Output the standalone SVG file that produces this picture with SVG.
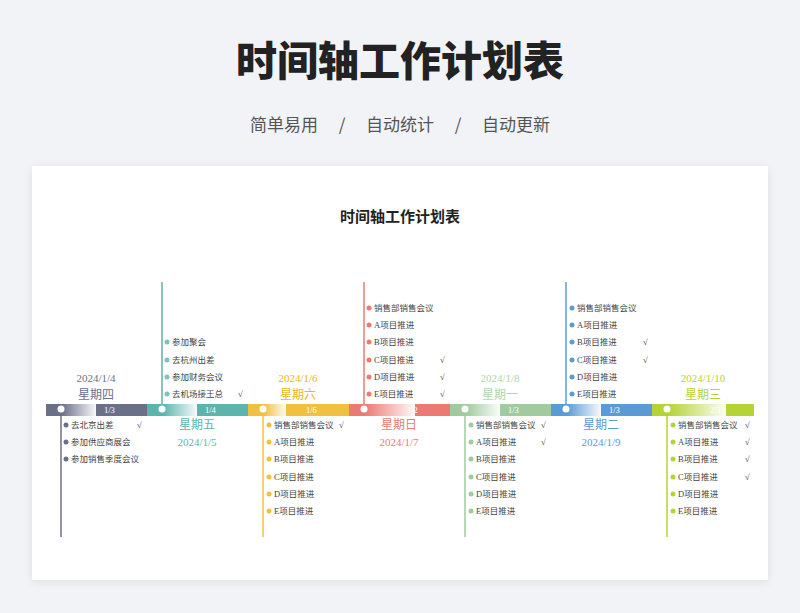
<svg xmlns="http://www.w3.org/2000/svg" width="800" height="613" viewBox="0 0 800 613">
<defs>
<style>
.s{font-family:"Liberation Serif","Noto Sans CJK SC",serif}
.it{font-size:8.5px;fill:#444}
.ck{font-size:8.5px;fill:#444}
.dt{font-size:11px;text-anchor:middle}
.wd{font-size:12px;text-anchor:middle}
.lb{font-size:8.5px;fill:#fff}
.sub{font-family:"Noto Sans CJK SC",sans-serif;font-size:17px;fill:#555;text-anchor:middle}
</style>
<linearGradient id="g" x1="0" x2="1" y1="0" y2="0"><stop offset="0" stop-color="#fff" stop-opacity="0"/><stop offset="1" stop-color="#fff" stop-opacity="0.95"/></linearGradient>
<filter id="sh" x="-5%" y="-5%" width="110%" height="110%"><feDropShadow dx="0" dy="2" stdDeviation="4" flood-color="#000" flood-opacity="0.08"/></filter>
</defs>
<rect width="800" height="613" fill="#f2f3f7"/>
<text x="400" y="76" text-anchor="middle" font-family="Noto Sans CJK SC,sans-serif" font-size="41" font-weight="900" fill="#222">时间轴工作计划表</text>
<text class="sub" x="284" y="131">简单易用</text><text class="sub" x="342" y="131">/</text><text class="sub" x="400" y="131">自动统计</text><text class="sub" x="458" y="131">/</text><text class="sub" x="516" y="131">自动更新</text>
<rect x="32" y="166" width="736" height="414" fill="#fff" filter="url(#sh)"/>
<text x="400" y="222" text-anchor="middle" font-family="Noto Sans CJK SC,sans-serif" font-size="15" font-weight="bold" fill="#222">时间轴工作计划表</text>
<g id="connectors" stroke-width="1.5">
<line x1="61" y1="410" x2="61" y2="537" stroke="#6b7089"/>
<line x1="162" y1="410" x2="162" y2="282" stroke="#5bb5ad"/>
<line x1="263" y1="410" x2="263" y2="537" stroke="#f0c040"/>
<line x1="364" y1="410" x2="364" y2="282" stroke="#ec7a72"/>
<line x1="465" y1="410" x2="465" y2="537" stroke="#9fcb9e"/>
<line x1="566" y1="410" x2="566" y2="282" stroke="#5b9bd5"/>
<line x1="667" y1="410" x2="667" y2="537" stroke="#b5d334"/>
</g>
<g id="n1" class="s">
<rect x="46" y="404" width="101" height="12" fill="#6b7089"/><rect x="62" y="404" width="34" height="12" fill="url(#g)"/>
<circle cx="61" cy="409" r="3.5" fill="#fff"/><text class="lb" x="104" y="413">1/3</text>
<text class="dt" x="96" y="382" fill="#6b7089">2024/1/4</text><text class="wd" x="96" y="399" fill="#6b7089">星期四</text>
<g fill="#6b7089"><circle cx="66" cy="425" r="2.5"/><circle cx="66" cy="442" r="2.5"/><circle cx="66" cy="459" r="2.5"/></g>
<text class="it" x="71" y="428">去北京出差</text><text class="ck" x="137" y="428">√</text>
<text class="it" x="71" y="445">参加供应商展会</text><text class="it" x="71" y="462">参加销售季度会议</text>
</g>
<g id="n2" class="s">
<rect x="147" y="404" width="101" height="12" fill="#5bb5ad"/><rect x="163" y="404" width="34" height="12" fill="url(#g)"/>
<circle cx="162" cy="409" r="3.5" fill="#fff"/><text class="lb" x="205" y="413">1/4</text>
<text class="wd" x="197" y="429" fill="#5bb5ad">星期五</text><text class="dt" x="197" y="446" fill="#5bb5ad">2024/1/5</text>
<g fill="#7fc2bc"><circle cx="167" cy="342" r="2.5"/><circle cx="167" cy="360" r="2.5"/><circle cx="167" cy="377" r="2.5"/><circle cx="167" cy="394" r="2.5"/></g>
<text class="it" x="172" y="345">参加聚会</text><text class="it" x="172" y="363">去杭州出差</text><text class="it" x="172" y="380">参加财务会议</text><text class="it" x="172" y="397">去机场接王总</text><text class="ck" x="238" y="397">√</text>
</g>
<g id="n3" class="s">
<rect x="248" y="404" width="101" height="12" fill="#f0c040"/><rect x="264" y="404" width="22" height="12" fill="url(#g)"/>
<circle cx="263" cy="409" r="3.5" fill="#fff"/><text class="lb" x="306" y="413">1/6</text>
<text class="dt" x="298" y="382" fill="#e8b820">2024/1/6</text><text class="wd" x="298" y="399" fill="#e8b820">星期六</text>
<g fill="#f0c040"><circle cx="269" cy="425" r="2.5"/><circle cx="269" cy="442" r="2.5"/><circle cx="269" cy="459" r="2.5"/><circle cx="269" cy="477" r="2.5"/><circle cx="269" cy="494" r="2.5"/><circle cx="269" cy="511" r="2.5"/></g>
<text class="it" x="274" y="428">销售部销售会议</text><text class="ck" x="339" y="428">√</text>
<text class="it" x="274" y="445">A项目推进</text><text class="it" x="274" y="462">B项目推进</text><text class="it" x="274" y="480">C项目推进</text><text class="it" x="274" y="497">D项目推进</text><text class="it" x="274" y="514">E项目推进</text>
</g>
<g id="n4" class="s">
<rect x="349" y="404" width="101" height="12" fill="#ec7a72"/><rect x="365" y="404" width="50" height="12" fill="url(#g)"/>
<circle cx="364" cy="409" r="3.5" fill="#fff"/><text class="lb" x="407" y="413">1/2</text>
<text class="wd" x="399" y="429" fill="#ec7a72">星期日</text><text class="dt" x="399" y="446" fill="#ec7a72">2024/1/7</text>
<g fill="#ec7a72"><circle cx="369" cy="308" r="2.5"/><circle cx="369" cy="325" r="2.5"/><circle cx="369" cy="342" r="2.5"/><circle cx="369" cy="360" r="2.5"/><circle cx="369" cy="377" r="2.5"/><circle cx="369" cy="394" r="2.5"/></g>
<text class="it" x="374" y="311">销售部销售会议</text><text class="it" x="374" y="328">A项目推进</text><text class="it" x="374" y="345">B项目推进</text><text class="it" x="374" y="363">C项目推进</text><text class="it" x="374" y="380">D项目推进</text><text class="it" x="374" y="397">E项目推进</text>
<text class="ck" x="440" y="363">√</text><text class="ck" x="440" y="380">√</text><text class="ck" x="440" y="397">√</text>
</g>
<g id="n5" class="s">
<rect x="450" y="404" width="101" height="12" fill="#9fcb9e"/><rect x="466" y="404" width="34" height="12" fill="url(#g)"/>
<circle cx="465" cy="409" r="3.5" fill="#fff"/><text class="lb" x="508" y="413">1/3</text>
<text class="dt" x="500" y="382" fill="#aed4ad">2024/1/8</text><text class="wd" x="500" y="399" fill="#aed4ad">星期一</text>
<g fill="#9fcb9e"><circle cx="471" cy="425" r="2.5"/><circle cx="471" cy="442" r="2.5"/><circle cx="471" cy="459" r="2.5"/><circle cx="471" cy="477" r="2.5"/><circle cx="471" cy="494" r="2.5"/><circle cx="471" cy="511" r="2.5"/></g>
<text class="it" x="476" y="428">销售部销售会议</text><text class="ck" x="541" y="428">√</text>
<text class="it" x="476" y="445">A项目推进</text><text class="ck" x="541" y="445">√</text><text class="it" x="476" y="462">B项目推进</text><text class="it" x="476" y="480">C项目推进</text><text class="it" x="476" y="497">D项目推进</text><text class="it" x="476" y="514">E项目推进</text>
</g>
<g id="n6" class="s">
<rect x="551" y="404" width="101" height="12" fill="#5b9bd5"/><rect x="567" y="404" width="34" height="12" fill="url(#g)"/>
<circle cx="566" cy="409" r="3.5" fill="#fff"/><text class="lb" x="609" y="413">1/3</text>
<text class="wd" x="601" y="429" fill="#5b9bd5">星期二</text><text class="dt" x="601" y="446" fill="#5b9bd5">2024/1/9</text>
<g fill="#5b9bd5"><circle cx="572" cy="308" r="2.5"/><circle cx="572" cy="325" r="2.5"/><circle cx="572" cy="342" r="2.5"/><circle cx="572" cy="360" r="2.5"/><circle cx="572" cy="377" r="2.5"/><circle cx="572" cy="394" r="2.5"/></g>
<text class="it" x="577" y="311">销售部销售会议</text><text class="it" x="577" y="328">A项目推进</text><text class="it" x="577" y="345">B项目推进</text><text class="it" x="577" y="363">C项目推进</text><text class="it" x="577" y="380">D项目推进</text><text class="it" x="577" y="397">E项目推进</text>
<text class="ck" x="643" y="345">√</text><text class="ck" x="643" y="363">√</text>
</g>
<g id="n7" class="s">
<rect x="652" y="404" width="102" height="12" fill="#b5d334"/><rect x="668" y="404" width="58" height="12" fill="url(#g)"/>
<circle cx="667" cy="409" r="3.5" fill="#fff"/><text class="lb" x="710" y="413">2/3</text>
<text class="dt" x="703" y="382" fill="#b5d334">2024/1/10</text><text class="wd" x="703" y="399" fill="#b5d334">星期三</text>
<g fill="#b5d334"><circle cx="673" cy="425" r="2.5"/><circle cx="673" cy="442" r="2.5"/><circle cx="673" cy="459" r="2.5"/><circle cx="673" cy="477" r="2.5"/><circle cx="673" cy="494" r="2.5"/><circle cx="673" cy="511" r="2.5"/></g>
<text class="it" x="678" y="428">销售部销售会议</text><text class="it" x="678" y="445">A项目推进</text><text class="it" x="678" y="462">B项目推进</text><text class="it" x="678" y="480">C项目推进</text><text class="it" x="678" y="497">D项目推进</text><text class="it" x="678" y="514">E项目推进</text>
<text class="ck" x="745" y="428">√</text><text class="ck" x="745" y="445">√</text><text class="ck" x="745" y="462">√</text><text class="ck" x="745" y="480">√</text>
</g>
</svg>
